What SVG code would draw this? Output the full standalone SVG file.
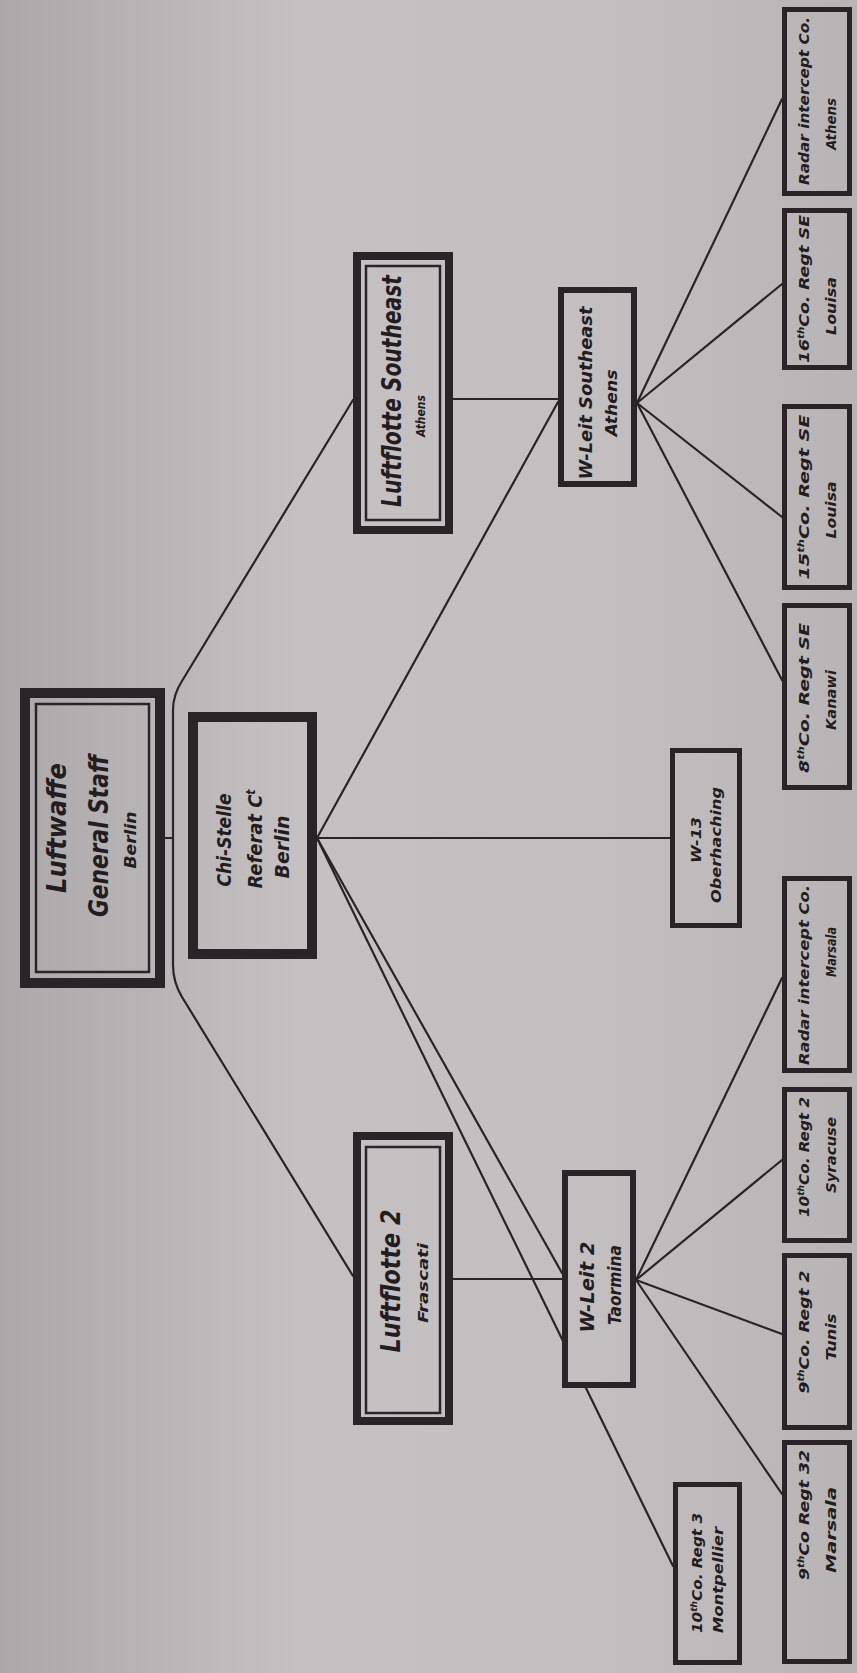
<svg xmlns="http://www.w3.org/2000/svg" width="857" height="1673" viewBox="0 0 857 1673">
<defs>
<linearGradient id="bg" gradientUnits="userSpaceOnUse" x1="0" y1="0" x2="857" y2="0">
<stop offset="0" stop-color="#aca8aa"/>
<stop offset="0.35" stop-color="#c5c1c3"/>
<stop offset="0.7" stop-color="#c3bfc1"/>
<stop offset="1" stop-color="#b8b4b6"/>
</linearGradient>
<style>
.ln{stroke:#2a2327;stroke-width:2.2;fill:none;stroke-linecap:round}
.bx{fill:url(#bg);stroke:#2a2327}
.in{fill:none;stroke:#2a2327;stroke-width:2.5}
text{font-family:"DejaVu Sans Condensed","Liberation Sans",sans-serif;font-style:italic;font-weight:bold;fill:#231d21;text-anchor:middle}
.sup{font-size:0.6em}
</style>
</defs>
<rect x="0" y="0" width="857" height="1673" fill="url(#bg)"/>

<g id="connectors">
<path class="ln" d="M165,838 H173"/>
<path class="ln" d="M353,400 L182,681 Q173,695 173,710 V965 Q173,982 182,997 L353,1276"/>
<path class="ln" d="M453,399 H558"/>
<path class="ln" d="M453,1279 H562"/>
<path class="ln" d="M317,838 L558,402"/>
<path class="ln" d="M317,838 H670"/>
<path class="ln" d="M317,838 L562,1273"/>
<path class="ln" d="M317,838 L673,1566"/>
<path class="ln" d="M637,403 L782,99"/>
<path class="ln" d="M637,403 L782,284"/>
<path class="ln" d="M637,403 L782,517"/>
<path class="ln" d="M637,403 L782,680"/>
<path class="ln" d="M636,1280 L782,978"/>
<path class="ln" d="M636,1280 L782,1160"/>
<path class="ln" d="M636,1280 L782,1334"/>
<path class="ln" d="M636,1280 L782,1494"/>
</g>

<g id="gen-staff">
<rect class="bx" x="25" y="693" width="135" height="290" stroke-width="10"/>
<rect class="in" x="36" y="704" width="113" height="268"/>
<text transform="translate(66,828) rotate(-90)" font-size="26" textLength="130" lengthAdjust="spacingAndGlyphs">Luftwaffe</text>
<text transform="translate(108,836) rotate(-90)" font-size="26" textLength="162" lengthAdjust="spacingAndGlyphs">General Staff</text>
<text transform="translate(136,840) rotate(-90)" font-size="15" textLength="57" lengthAdjust="spacingAndGlyphs">Berlin</text>
</g>

<g id="chi-stelle">
<rect class="bx" x="193" y="717" width="119" height="237" stroke-width="10"/>
<text transform="translate(231,840) rotate(-90)" font-size="19" textLength="93" lengthAdjust="spacingAndGlyphs">Chi-Stelle</text>
<text transform="translate(262,839) rotate(-90)" font-size="19" textLength="99" lengthAdjust="spacingAndGlyphs">Referat C<tspan class="sup" dy="-7">t</tspan></text>
<text transform="translate(289,847) rotate(-90)" font-size="19" textLength="63" lengthAdjust="spacingAndGlyphs">Berlin</text>
</g>

<g id="lf-southeast">
<rect class="bx" x="357" y="256" width="92" height="274" stroke-width="8"/>
<rect class="in" x="366" y="266" width="74" height="254"/>
<text transform="translate(401,391) rotate(-90)" font-size="26" textLength="232" lengthAdjust="spacingAndGlyphs">Luftflotte Southeast</text>
<text transform="translate(425,416) rotate(-90)" font-size="13" textLength="42" lengthAdjust="spacingAndGlyphs">Athens</text>
</g>

<g id="lf-2">
<rect class="bx" x="357" y="1136" width="92" height="285" stroke-width="8"/>
<rect class="in" x="366" y="1147" width="74" height="266"/>
<text transform="translate(400,1281) rotate(-90)" font-size="26" textLength="143" lengthAdjust="spacingAndGlyphs">Luftflotte 2</text>
<text transform="translate(428,1283) rotate(-90)" font-size="14" textLength="80" lengthAdjust="spacingAndGlyphs">Frascati</text>
</g>

<g id="wleit-se">
<rect class="bx" x="561" y="290" width="73" height="194" stroke-width="6"/>
<text transform="translate(592,393) rotate(-90)" font-size="17" textLength="173" lengthAdjust="spacingAndGlyphs">W-Leit Southeast</text>
<text transform="translate(617,403) rotate(-90)" font-size="15" textLength="67" lengthAdjust="spacingAndGlyphs">Athens</text>
</g>

<g id="wleit-2">
<rect class="bx" x="565" y="1173" width="68" height="212" stroke-width="6"/>
<text transform="translate(594,1287) rotate(-90)" font-size="19" textLength="91" lengthAdjust="spacingAndGlyphs">W-Leit 2</text>
<text transform="translate(621,1285) rotate(-90)" font-size="17" textLength="80" lengthAdjust="spacingAndGlyphs">Taormina</text>
</g>

<g id="w-13">
<rect class="bx" x="672.5" y="750.5" width="67" height="175" stroke-width="5"/>
<text transform="translate(701,840) rotate(-90)" font-size="14" textLength="46" lengthAdjust="spacingAndGlyphs">W-13</text>
<text transform="translate(721,845) rotate(-90)" font-size="14" textLength="116" lengthAdjust="spacingAndGlyphs">Oberhaching</text>
</g>

<g id="radar-athens">
<rect class="bx" x="784.5" y="9.5" width="65" height="184" stroke-width="5"/>
<text transform="translate(809,101) rotate(-90)" font-size="14" textLength="168" lengthAdjust="spacingAndGlyphs">Radar intercept Co.</text>
<text transform="translate(836,124) rotate(-90)" font-size="14" textLength="52" lengthAdjust="spacingAndGlyphs">Athens</text>
</g>

<g id="co16-se">
<rect class="bx" x="784.5" y="210.5" width="65" height="157" stroke-width="5"/>
<text transform="translate(809,289) rotate(-90)" font-size="14" textLength="148" lengthAdjust="spacingAndGlyphs">16<tspan class="sup" dy="-5">th</tspan><tspan dy="5">Co. Regt SE</tspan></text>
<text transform="translate(836,306) rotate(-90)" font-size="14" textLength="58" lengthAdjust="spacingAndGlyphs">Louisa</text>
</g>

<g id="co15-se">
<rect class="bx" x="784.5" y="406.5" width="65" height="181" stroke-width="5"/>
<text transform="translate(809,497) rotate(-90)" font-size="14" textLength="165" lengthAdjust="spacingAndGlyphs">15<tspan class="sup" dy="-5">th</tspan><tspan dy="5">Co. Regt SE</tspan></text>
<text transform="translate(836,510) rotate(-90)" font-size="14" textLength="57" lengthAdjust="spacingAndGlyphs">Louisa</text>
</g>

<g id="co8-se">
<rect class="bx" x="784.5" y="605.5" width="65" height="182" stroke-width="5"/>
<text transform="translate(809,698) rotate(-90)" font-size="14" textLength="150" lengthAdjust="spacingAndGlyphs">8<tspan class="sup" dy="-5">th</tspan><tspan dy="5">Co. Regt SE</tspan></text>
<text transform="translate(836,700) rotate(-90)" font-size="14" textLength="60" lengthAdjust="spacingAndGlyphs">Kanawi</text>
</g>

<g id="radar-marsala">
<rect class="bx" x="784.5" y="878.5" width="65" height="192" stroke-width="5"/>
<text transform="translate(809,975) rotate(-90)" font-size="14" textLength="180" lengthAdjust="spacingAndGlyphs">Radar intercept Co.</text>
<text transform="translate(836,952) rotate(-90)" font-size="14" textLength="50" lengthAdjust="spacingAndGlyphs">Marsala</text>
</g>

<g id="co10-r2">
<rect class="bx" x="784.5" y="1089.5" width="65" height="151" stroke-width="5"/>
<text transform="translate(809,1157) rotate(-90)" font-size="14" textLength="120" lengthAdjust="spacingAndGlyphs">10<tspan class="sup" dy="-5">th</tspan><tspan dy="5">Co. Regt 2</tspan></text>
<text transform="translate(836,1155) rotate(-90)" font-size="14" textLength="76" lengthAdjust="spacingAndGlyphs">Syracuse</text>
</g>

<g id="co9-r2">
<rect class="bx" x="784.5" y="1255.5" width="65" height="172" stroke-width="5"/>
<text transform="translate(809,1332) rotate(-90)" font-size="14" textLength="123" lengthAdjust="spacingAndGlyphs">9<tspan class="sup" dy="-5">th</tspan><tspan dy="5">Co. Regt 2</tspan></text>
<text transform="translate(836,1337) rotate(-90)" font-size="14" textLength="47" lengthAdjust="spacingAndGlyphs">Tunis</text>
</g>

<g id="co9-r32">
<rect class="bx" x="784.5" y="1442.5" width="65" height="219" stroke-width="5"/>
<text transform="translate(809,1515) rotate(-90)" font-size="14" textLength="130" lengthAdjust="spacingAndGlyphs">9<tspan class="sup" dy="-5">th</tspan><tspan dy="5">Co Regt 32</tspan></text>
<text transform="translate(836,1530) rotate(-90)" font-size="14" textLength="86" lengthAdjust="spacingAndGlyphs">Marsala</text>
</g>

<g id="co10-r3">
<rect class="bx" x="675.5" y="1484.5" width="64" height="178" stroke-width="5"/>
<text transform="translate(702,1573) rotate(-90)" font-size="14" textLength="120" lengthAdjust="spacingAndGlyphs">10<tspan class="sup" dy="-5">th</tspan><tspan dy="5">Co. Regt 3</tspan></text>
<text transform="translate(723,1580) rotate(-90)" font-size="14" textLength="106" lengthAdjust="spacingAndGlyphs">Montpellier</text>
</g>
</svg>
